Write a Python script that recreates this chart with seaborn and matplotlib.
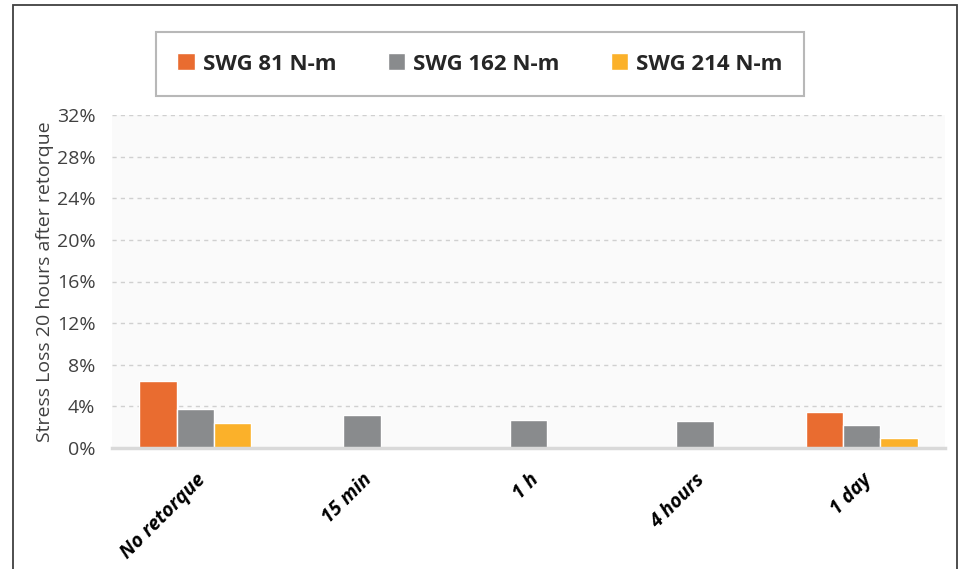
import matplotlib
matplotlib.use("Agg")
import matplotlib.pyplot as plt
from matplotlib.patches import Rectangle
from matplotlib.ticker import FuncFormatter
import numpy as np
import pandas as pd
import seaborn as sns

# values (% stress loss)
categories = ["No retorque", "15 min", "1 h", "4 hours", "1 day"]
series = ["SWG 81 N-m", "SWG 162 N-m", "SWG 214 N-m"]
swg_81 = [6.4, np.nan, np.nan, np.nan, 3.5]
swg_162 = [3.75, 3.2, 2.7, 2.6, 2.2]
swg_214 = [2.4, np.nan, np.nan, np.nan, 1.0]
colors = ["#e96c30", "#898b8d", "#fbb12a"]

rows = []
for name, vals in zip(series, [swg_81, swg_162, swg_214]):
    for cat, v in zip(categories, vals):
        rows.append({"time": cat, "series": name, "loss": v})
df = pd.DataFrame(rows)

sns.set_theme(style="white")
plt.rcParams['font.family'] = ['Open Sans', 'DejaVu Sans']

fig = plt.figure(figsize=(9.71, 5.69), dpi=100)
ax = fig.add_axes([112 / 971, 1 - 448 / 569, 833 / 971, 333 / 569])
ax.set_facecolor("#fafafa")

sns.barplot(data=df, x="time", y="loss", hue="series", order=categories,
            hue_order=series, palette=colors, width=0.67, saturation=1,
            ax=ax, legend=True)

ax.set_ylim(0, 32)
ax.set_yticks(np.arange(0, 33, 4))
ax.yaxis.set_major_formatter(FuncFormatter(lambda v, p: f"{v:.0f}%"))
ax.grid(axis="y", color="#d0d0d0", linestyle=(0, (3, 3)), linewidth=1)
ax.set_axisbelow(True)
for s in ["top", "right", "left"]:
    ax.spines[s].set_visible(False)
ax.spines["bottom"].set_color("#d9d9d9")
ax.spines["bottom"].set_linewidth(2.5)
ax.tick_params(axis="both", length=0)
ax.tick_params(axis="y", labelsize=14, labelcolor="#404040", pad=12)
ax.set_xlabel("")
ax.set_ylabel("Stress Loss 20 hours after retorque", fontsize=14,
              color="#404040", labelpad=2)
for lab in ax.get_xticklabels():
    lab.set_rotation(45)
    lab.set_ha("right")
    lab.set_rotation_mode("anchor")
    lab.set_fontsize(14)
    lab.set_fontweight("bold")
    lab.set_fontstyle("italic")
    lab.set_color("black")
ax.tick_params(axis="x", pad=16)

handles, labels = ax.get_legend_handles_labels()
ax.get_legend().remove()
leg = fig.legend(handles, labels, ncol=3, loc="center",
                 bbox_to_anchor=(480 / 971, 1 - 64 / 569),
                 prop={"weight": "bold", "size": 16}, frameon=True,
                 fancybox=False, borderpad=0.95, handlelength=0.8,
                 handleheight=0.8, handletextpad=0.35, columnspacing=2.3,
                 borderaxespad=0)
leg.get_frame().set_edgecolor("#a6a6a6")
leg.get_frame().set_linewidth(1.5)
for t in leg.get_texts():
    t.set_color("#262626")

# outer frame of the chart
fig.patches.append(Rectangle((13 / 971, -0.05), 944 / 971, 1.05 - 5 / 569,
                             transform=fig.transFigure, fill=False,
                             edgecolor="#404040", linewidth=1.3))

fig.savefig("out.png", dpi=100)
